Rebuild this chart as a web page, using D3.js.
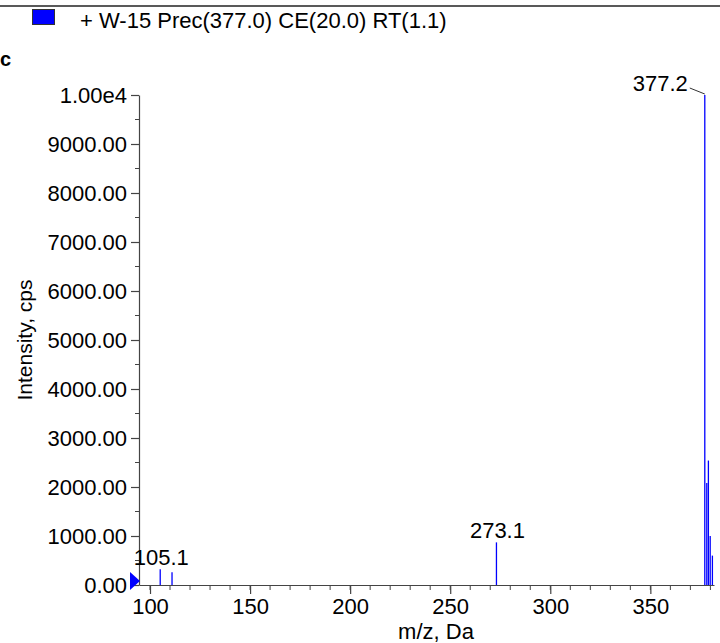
<!DOCTYPE html>
<html lang="en">
<head>
    <meta charset="UTF-8">
    <title>Spectrum</title>
    <style>
        body { margin: 0; background: #fff; }
        text { font-family: "Liberation Sans", Arial, sans-serif; fill: #000; }
    </style>
</head>
<body>
<script src="https://d3js.org/d3.v7.min.js"></script>
<script>
    // peaks
    let mz = [105.1, 111.0, 273.1, 377.2, 378.2, 379.0, 379.9, 381.0];
    let intensity = [320, 260, 870, 10000, 2080, 2540, 1000, 600];
    let labelled = ['105.1', '273.1', '377.2'];
    let xTicks = [100, 150, 200, 250, 300, 350];
    let yTicks = [0, 1000, 2000, 3000, 4000, 5000, 6000, 7000, 8000, 9000, 10000];
    let title = '+ W-15 Prec(377.0) CE(20.0) RT(1.1)';

    let width = 720;
    let height = 643;
    let axisColor = '#444';

    let data = mz.map((m, i) => ({ mz: m, value: intensity[i] }));

    let svg = d3.select('body')
        .append('svg')
        .attr('width', width)
        .attr('height', height);

    let xScale = d3.scaleLinear()
        .domain([94.5, 381.8])
        .range([139, 714]);
    let yScale = d3.scaleLinear()
        .domain([0, 10000])
        .range([585, 95]);

    // top rule and legend
    svg.append('line')
        .attr('x1', 0).attr('x2', width)
        .attr('y1', 6).attr('y2', 6)
        .attr('stroke', '#222').attr('stroke-width', 1.5);
    svg.append('rect')
        .attr('x', 32.5).attr('y', 9.5)
        .attr('width', 22).attr('height', 15)
        .attr('fill', '#0000ff').attr('stroke', '#333').attr('stroke-width', 1);
    svg.append('text')
        .attr('x', 80).attr('y', 28)
        .style('font-size', '22px')
        .text(title);
    // leftover glyph at the left edge
    svg.append('text')
        .attr('x', 0).attr('y', 66)
        .style('font-size', '20px')
        .style('font-weight', 'bold')
        .text('c');

    // minor ticks
    let minorX = d3.range(100, 381, 10);
    svg.append('g')
        .selectAll('line').data(minorX).enter()
        .append('line')
        .attr('x1', d => xScale(d)).attr('x2', d => xScale(d))
        .attr('y1', yScale(0)).attr('y2', yScale(0) + 5)
        .attr('stroke', axisColor);
    let minorY = d3.range(500, 10000, 1000);
    svg.append('g')
        .selectAll('line').data(minorY).enter()
        .append('line')
        .attr('x1', xScale.range()[0] - 4).attr('x2', xScale.range()[0])
        .attr('y1', d => yScale(d)).attr('y2', d => yScale(d))
        .attr('stroke', axisColor);

    let xAxis = d3.axisBottom(xScale)
        .tickValues(xTicks)
        .tickSizeInner(9)
        .tickSizeOuter(0)
        .tickPadding(4)
        .tickFormat(d3.format('d'));
    let gx = svg.append('g')
        .attr('transform', 'translate(0,' + yScale(0) + ')')
        .call(xAxis);
    gx.selectAll('text').style('font-size', '22px').attr('fill', '#000');

    let yAxis = d3.axisLeft(yScale)
        .tickValues(yTicks)
        .tickSizeInner(8)
        .tickSizeOuter(0)
        .tickPadding(4)
        .tickFormat(d => d === 10000 ? '1.00e4' : d.toFixed(2));
    let gy = svg.append('g')
        .attr('transform', 'translate(' + xScale.range()[0] + ',0)')
        .call(yAxis);
    gy.selectAll('text').style('font-size', '22px').attr('fill', '#000');

    svg.selectAll('.domain, .tick line').attr('stroke', axisColor).attr('stroke-width', 1.2);

    // axis titles
    svg.append('text')
        .attr('x', 436)
        .attr('y', 639)
        .attr('text-anchor', 'middle')
        .style('font-size', '22px')
        .text('m/z, Da');
    svg.append('text')
        .attr('transform', 'translate(32,' + ((yScale.range()[0] + yScale.range()[1]) / 2) + ') rotate(-90)')
        .attr('text-anchor', 'middle')
        .style('font-size', '21px')
        .text('Intensity, cps');

    // peaks
    svg.append('g')
        .selectAll('line').data(data).enter()
        .append('line')
        .attr('x1', d => xScale(d.mz)).attr('x2', d => xScale(d.mz))
        .attr('y1', yScale(0)).attr('y2', d => yScale(d.value))
        .attr('stroke', '#0000ff').attr('stroke-width', 1.3);

    // peak labels
    data.filter(d => labelled.includes(d.mz.toFixed(1))).forEach(d => {
        let px = xScale(d.mz), py = yScale(d.value);
        if (d.value > 9000) {
            svg.append('text')
                .attr('x', px - 17).attr('y', py - 4)
                .attr('text-anchor', 'end')
                .style('font-size', '22px')
                .text(d.mz.toFixed(1));
            svg.append('line')
                .attr('x1', px - 15).attr('y1', py - 7)
                .attr('x2', px).attr('y2', py - 1)
                .attr('stroke', '#333');
        } else {
            svg.append('text')
                .attr('x', px + 1).attr('y', py - 4)
                .attr('text-anchor', 'middle')
                .style('font-size', '22px')
                .text(d.mz.toFixed(1));
        }
    });

    // zero marker
    let x0 = xScale.range()[0], y0 = yScale(0) - 4;
    svg.append('path')
        .attr('d', d3.line()([[x0 - 9, y0 - 9], [x0 + 1, y0], [x0 - 9, y0 + 9]]))
        .attr('fill', '#0000ff');
</script>
</body>
</html>
